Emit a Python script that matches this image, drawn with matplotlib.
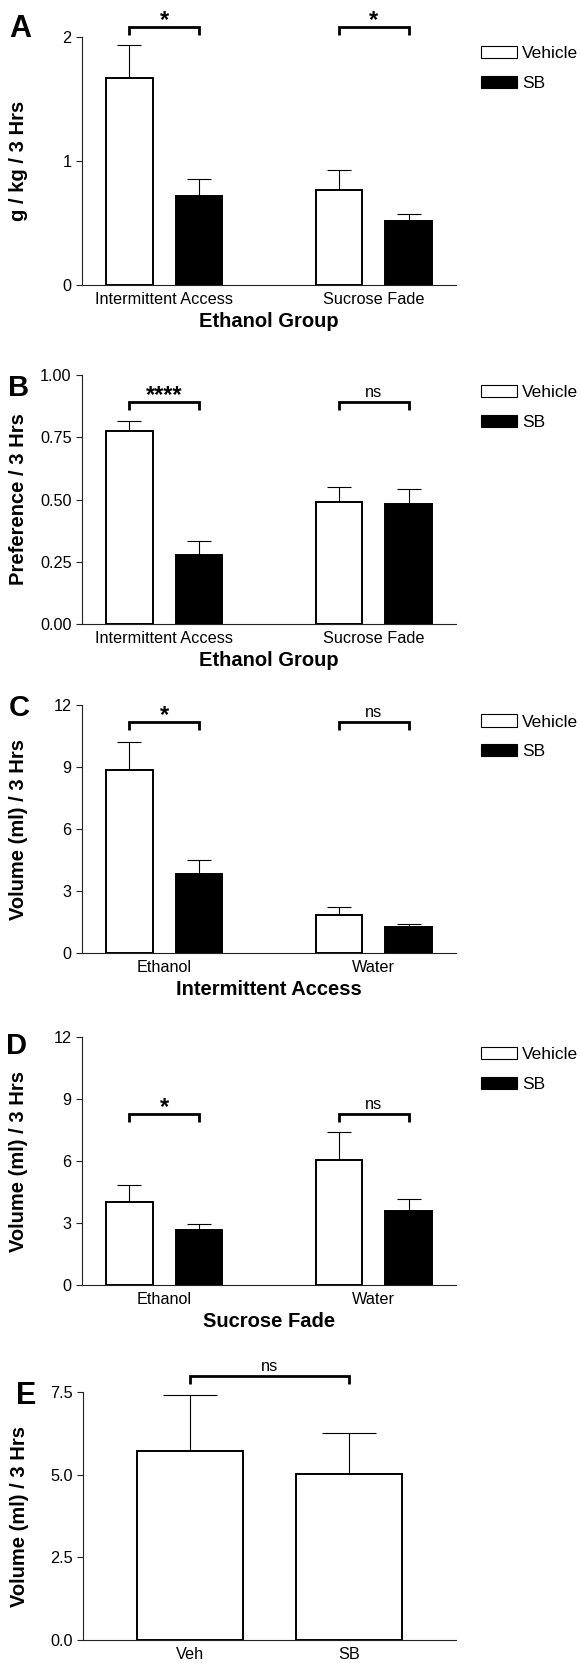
import matplotlib
matplotlib.use("Agg")
import matplotlib.pyplot as plt
from matplotlib.patches import Patch
import numpy as np

plt.rcParams['font.family'] = ['Liberation Sans', 'DejaVu Sans']

# ---------------- data ----------------
groups_AB = ["Intermittent Access", "Sucrose Fade"]
groups_CD = ["Ethanol", "Water"]
series = ["Vehicle", "SB"]

A_veh = [1.667, 0.769]
A_veh_err = [0.266, 0.156]
A_sb = [0.720, 0.513]
A_sb_err = [0.135, 0.060]

B_veh = [0.777, 0.490]
B_veh_err = [0.040, 0.059]
B_sb = [0.277, 0.483]
B_sb_err = [0.056, 0.059]

C_veh = [8.86, 1.87]
C_veh_err = [1.37, 0.39]
C_sb = [3.82, 1.27]
C_sb_err = [0.69, 0.15]

D_veh = [4.04, 6.04]
D_veh_err = [0.81, 1.36]
D_sb = [2.68, 3.57]
D_sb_err = [0.29, 0.60]

E_labels = ["Veh", "SB"]
E_vals = [5.72, 5.03]
E_err = [1.69, 1.23]

sig_AB = ["*", "*"]
sig_B = ["****", "ns"]
sig_C = ["*", "ns"]
sig_D = ["*", "ns"]
sig_E = "ns"

ylabels = ["g / kg / 3 Hrs", "Preference / 3 Hrs", "Volume (ml) / 3 Hrs",
           "Volume (ml) / 3 Hrs", "Volume (ml) / 3 Hrs"]
xlabels = ["Ethanol Group", "Ethanol Group", "Intermittent Access", "Sucrose Fade", None]

# ---------------- layout ----------------
W, H = 581, 1663
fig = plt.figure(figsize=(W / 100, H / 100), dpi=100)

def add_axes(left_px, top_px, right_px, bottom_px):
    return fig.add_axes([left_px / W, 1 - bottom_px / H,
                         (right_px - left_px) / W, (bottom_px - top_px) / H])

axA = add_axes(82, 36.7, 456, 285)
axB = add_axes(82, 375.3, 456, 623.7)
axC = add_axes(82, 705, 456, 953.3)
axD = add_axes(82, 1037.3, 456, 1285)
axE = add_axes(83, 1392.3, 456, 1640)

SPINE = '#222222'
TICK_FS = 11.7
LAB_FS = 14.5
SIG_FS = 11.8

def style(ax, ylim, yticks, yticklabels):
    ax.set_ylim(*ylim)
    ax.set_yticks(yticks)
    ax.set_yticklabels(yticklabels, fontsize=TICK_FS)
    for s in ['top', 'right']:
        ax.spines[s].set_visible(False)
    for s in ['left', 'bottom']:
        ax.spines[s].set_linewidth(0.8)
        ax.spines[s].set_color(SPINE)
    ax.tick_params(axis='y', length=4.5, width=0.8, color=SPINE, pad=3)
    ax.tick_params(axis='x', length=0, pad=5, labelsize=TICK_FS)

def bracket(ax, x0, x1, y, drop_px, text):
    ylo, yhi = ax.get_ylim()
    d = drop_px * (yhi - ylo) / (ax.bbox.height)
    ax.plot([x0, x0, x1, x1], [y - d, y, y, y - d], color='black', lw=2.0,
            clip_on=False, solid_capstyle='butt', solid_joinstyle='miter')
    if text.startswith('*'):
        ax.annotate(text, xy=((x0 + x1) / 2, y), xytext=(0, -3.8), textcoords='offset points',
                    ha='center', va='bottom', fontsize=17, fontweight='bold',
                    annotation_clip=False)
    else:
        ax.annotate(text, xy=((x0 + x1) / 2, y), xytext=(0, 1.2), textcoords='offset points',
                    ha='center', va='bottom', fontsize=SIG_FS, annotation_clip=False)

def grouped(ax, veh, veh_err, sb, sb_err, cats, capsize):
    pos = np.array([0.0, 4.5])
    width = 1.0
    ax.bar(pos, veh, width, color='white', edgecolor='black', linewidth=1.4, zorder=3)
    ax.bar(pos + 1.5, sb, width, color='black', edgecolor='black', linewidth=1.4, zorder=3)
    ax.errorbar(pos, veh, yerr=[np.zeros(2), veh_err], fmt='none', ecolor='black',
                elinewidth=0.8, capsize=capsize, capthick=0.8, zorder=2)
    ax.errorbar(pos + 1.5, sb, yerr=[np.zeros(2), sb_err], fmt='none', ecolor='black',
                elinewidth=0.8, capsize=capsize, capthick=0.8, zorder=2)
    ax.set_xticks(pos + 0.75)
    ax.set_xticklabels(cats)
    ax.set_xlim(-1.02, 7.02)
    return pos

def legend(ax):
    handles = [Patch(facecolor='white', edgecolor='black', linewidth=0.8, label=series[0]),
               Patch(facecolor='black', edgecolor='black', linewidth=0.8, label=series[1])]
    ax.legend(handles=handles, loc='upper left', bbox_to_anchor=(1.067, 0.962),
              frameon=False, borderpad=0, borderaxespad=0, handlelength=2.07,
              handleheight=0.7, handletextpad=0.3, labelspacing=0.85, fontsize=12.5)

panels = [
    (axA, A_veh, A_veh_err, A_sb, A_sb_err, groups_AB, (0, 2), [0, 1, 2], ["0", "1", "2"], [2.08, 2.08], sig_AB),
    (axB, B_veh, B_veh_err, B_sb, B_sb_err, groups_AB, (0, 1.0), [0, 0.25, 0.5, 0.75, 1.0],
     ["0.00", "0.25", "0.50", "0.75", "1.00"], [0.893, 0.893], sig_B),
    (axC, C_veh, C_veh_err, C_sb, C_sb_err, groups_CD, (0, 12), [0, 3, 6, 9, 12],
     ["0", "3", "6", "9", "12"], [11.2, 11.2], sig_C),
    (axD, D_veh, D_veh_err, D_sb, D_sb_err, groups_CD, (0, 12), [0, 3, 6, 9, 12],
     ["0", "3", "6", "9", "12"], [8.29, 8.29], sig_D),
]

for i, (ax, v, ve, s, se, cats, ylim, yt, ytl, by, sig) in enumerate(panels):
    style(ax, ylim, yt, ytl)
    pos = grouped(ax, v, ve, s, se, cats, capsize=8.3)
    for j in range(2):
        bracket(ax, pos[j], pos[j] + 1.5, by[j], 8, sig[j])
    legend(ax)
    ax.set_xlabel(xlabels[i], fontsize=LAB_FS, fontweight='bold')
    ax.xaxis.set_label_coords(0.5, -0.108)
    ax.xaxis.label.set_va('top')
    ax.set_ylabel(ylabels[i], fontsize=LAB_FS, fontweight='bold')
    ax.yaxis.set_label_coords(-0.145, 0.5)

# Panel E
style(axE, (0, 7.5), [0, 2.5, 5.0, 7.5], ["0.0", "2.5", "5.0", "7.5"])
posE = np.array([0.0, 1.5])
axE.bar(posE, E_vals, 1.0, color='white', edgecolor='black', linewidth=1.4, zorder=3)
axE.errorbar(posE, E_vals, yerr=[np.zeros(2), E_err], fmt='none', ecolor='black',
             elinewidth=0.8, capsize=19.4, capthick=0.8, zorder=2)
axE.set_xticks(posE)
axE.set_xticklabels(E_labels)
axE.set_xlim(-1.01, 2.51)
bracket(axE, posE[0], posE[1], 8.0, 8, sig_E)
axE.set_ylabel(ylabels[4], fontsize=LAB_FS, fontweight='bold')
axE.yaxis.set_label_coords(-0.145, 0.5)

# Panel letters
for letter, x, y, fs in [("A", 9, 14, 22), ("B", 8, 374, 21), ("C", 9, 694, 21),
                         ("D", 6, 1032, 21), ("E", 16, 1381, 22)]:
    fig.text(x / W, 1 - y / H, letter, fontsize=fs, fontweight='bold', ha='left', va='top')

fig.savefig("out.png", dpi=100)
